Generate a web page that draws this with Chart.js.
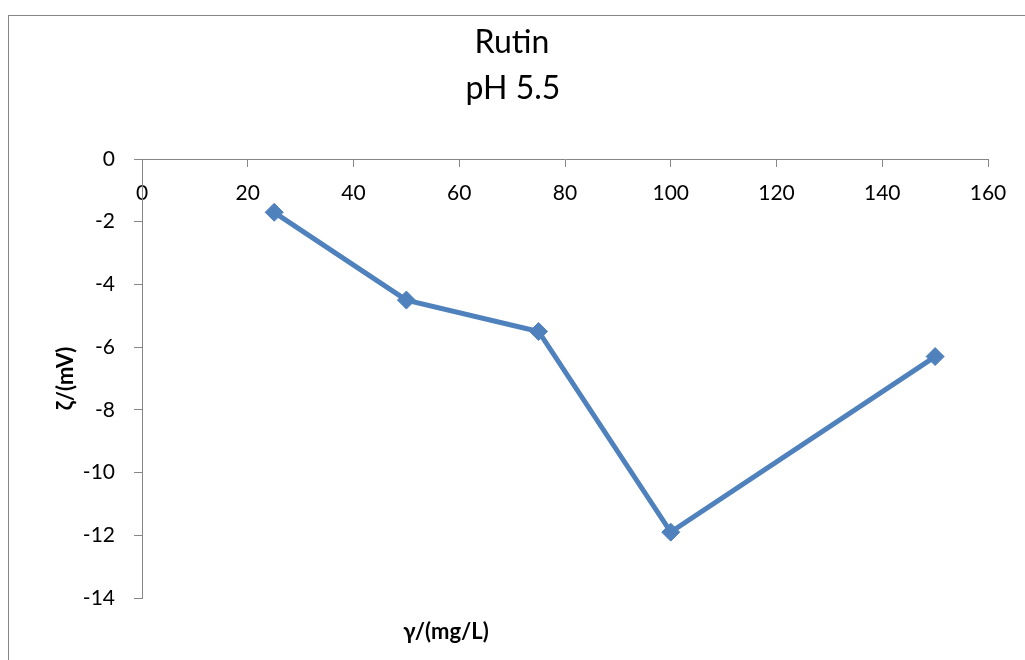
<!DOCTYPE html>
<html>
<head>
<meta charset="utf-8">
<script src="https://cdn.jsdelivr.net/npm/chart.js@4/dist/chart.umd.min.js"></script>
<style>
  html, body { margin: 0; padding: 0; background: #fff; }
  #wrap { width: 1025px; height: 660px; }
</style>
</head>
<body>
<div id="wrap"><canvas id="zetaChart" width="1025" height="660"></canvas></div>
<script>
// Données
const concentrations = [25, 50, 75, 100, 150];
const zetaPotential = [-1.7, -4.5, -5.5, -11.9, -6.3];
const titleLines = ['Rutin', 'pH 5.5'];
const xTitle = 'γ/(mg/L)';
const yTitle = 'ζ/(mV)';
const xRange = [0, 160, 20];   // min, max, pas
const yRange = [-14, 0, 2];

const axisGray = '#868686';
const fontFamily = 'Lato, "Open Sans", sans-serif';

// Cadre, titre et titre de l'axe x (placés comme dans Excel)
const decorations = {
  id: 'decorations',
  beforeDraw(chart) {
    const ctx = chart.ctx;
    ctx.save();
    ctx.strokeStyle = axisGray;
    ctx.lineWidth = 1;
    ctx.strokeRect(8.5, 15.5, 1100, 700);
    ctx.restore();
  },
  afterDraw(chart) {
    const ctx = chart.ctx;
    ctx.save();
    ctx.fillStyle = '#000';
    ctx.textAlign = 'center';
    ctx.textBaseline = 'alphabetic';
    ctx.font = '32px ' + fontFamily;
    ctx.fillText(titleLines[0], 512, 53);
    ctx.fillText(titleLines[1], 513, 99);
    ctx.font = 'bold 22px ' + fontFamily;
    ctx.textBaseline = 'middle';
    ctx.fillText(xTitle, 446, 632);
    ctx.restore();
  }
};

new Chart(document.getElementById('zetaChart'), {
  type: 'line',
  data: {
    datasets: [{
      label: 'Rutin pH 5.5',
      data: concentrations.map((c, i) => ({ x: c, y: zetaPotential[i] })),
      borderColor: '#4F81BD',
      backgroundColor: '#4F81BD',
      borderWidth: 5,
      pointStyle: 'rectRot',
      pointRadius: 9,
      pointBorderWidth: 1,
      tension: 0,
    }],
  },
  options: {
    responsive: false,
    animation: false,
    layout: { padding: { left: 0, top: 159, right: 37, bottom: 62 } },
    plugins: {
      legend: { display: false },
      tooltip: { enabled: false },
      title: { display: false },
    },
    scales: {
      x: {
        type: 'linear',
        position: { y: 0 },
        min: xRange[0],
        max: xRange[1],
        ticks: {
          stepSize: xRange[2],
          color: '#000',
          padding: 15,
          maxRotation: 0,
          font: { family: fontFamily, size: 21 },
        },
        grid: { drawOnChartArea: false, tickLength: 7, color: axisGray, tickColor: axisGray },
        border: { color: axisGray, width: 1 },
        afterFit(scale) { scale.height = 0; },
      },
      y: {
        type: 'linear',
        position: 'left',
        min: yRange[0],
        max: yRange[1],
        ticks: {
          stepSize: yRange[2],
          color: '#000',
          padding: 19,
          font: { family: fontFamily, size: 21 },
        },
        grid: { drawOnChartArea: false, tickLength: 8, color: axisGray, tickColor: axisGray },
        border: { color: axisGray, width: 1 },
        title: {
          display: true,
          text: yTitle,
          color: '#000',
          font: { family: fontFamily, size: 22, weight: 'bold' },
          padding: { top: 53, bottom: 0 },
        },
        afterFit(scale) { scale.width = 142; },
      },
    },
  },
  plugins: [decorations],
});
</script>
</body>
</html>
